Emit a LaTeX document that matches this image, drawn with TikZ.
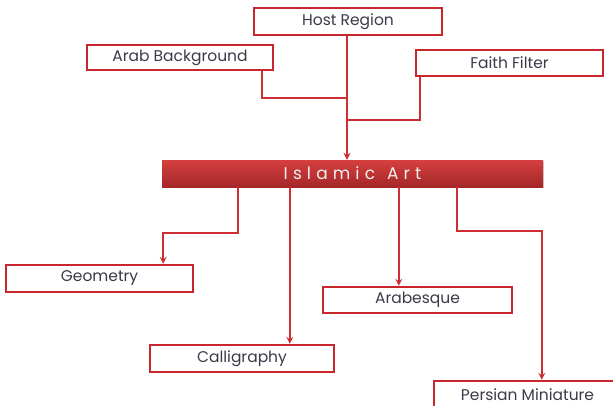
\documentclass[tikz,border=0pt]{standalone}
\usepackage{fontspec}
\setmainfont{Poppins}
\newfontfamily\barfont[LetterSpace=30]{Poppins}
\usetikzlibrary{calc,arrows.meta,shadows}
\definecolor{boxred}{HTML}{C8262C}
\definecolor{linered}{HTML}{CC2E33}
\definecolor{txt}{HTML}{3A3B48}
\definecolor{bartop}{HTML}{D5403F}
\definecolor{barbot}{HTML}{A52628}
\tikzset{
  box/.style={draw=boxred, line width=2.4pt, fill=white, text=txt,
    inner sep=0pt, font=\fontsize{15.5}{16}\selectfont},
  conn/.style={draw=linered, line width=1.6pt},
  arr/.style={conn, -{Stealth[length=7pt,width=7pt,inset=2.5pt]}},
  titlebar/.style={top color=bartop, bottom color=barbot, draw=none,
    text=white!94!black, inner sep=0pt, font=\barfont\fontsize{17}{18}\selectfont,
    drop shadow={shadow xshift=0.8pt, shadow yshift=-1.2pt, opacity=0.35}}
}
\begin{document}
\begin{tikzpicture}[x=1pt,y=-1pt]
\useasboundingbox (0,0) rectangle (613,405);
\node[box, minimum width=188pt, minimum height=27pt] (host) at (348,21.5) {Host Region};
\node[box, minimum width=186pt, minimum height=25pt] (arab) at (180,57.5) {Arab Background};
\node[box, minimum width=187pt, minimum height=26pt] (faith) at (509.5,63) {Faith Filter};
\node[titlebar, minimum width=381pt, minimum height=27pt] (bar) at (352.5,173.5) {Islamic\hspace{12pt}Art};
\node[box, minimum width=187pt, minimum height=27pt] (geo) at (99.5,278.5) {Geometry};
\node[box, minimum width=184pt, minimum height=27pt] (cal) at (242,358.5) {Calligraphy};
\node[box, minimum width=189pt, minimum height=26pt] (arb) at (417.5,300) {Arabesque};
\node[box, minimum width=187pt, minimum height=27pt] (per) at (527.5,394.5) {Persian Miniature};

% top connectors
\coordinate (hs) at ($(host.south)+(-1,0)$);
\coordinate (as) at ($(arab.south east)+(-12,0)$);
\coordinate (fs) at ($(faith.south west)+(5,0)$);
\coordinate (j1) at ($(hs)+(0,62)$);
\coordinate (j2) at ($(hs)+(0,84)$);
\draw[arr] (hs) -- (hs |- bar.north);
\draw[conn] (as) -- (as |- j1) -- (j1);
\draw[conn] (fs) -- (fs |- j2) -- (j2);

% bottom connectors
\coordinate (b1) at ($(bar.south west)+(76,0)$);
\coordinate (b2) at ($(bar.south west)+(128,0)$);
\coordinate (b3) at ($(bar.south west)+(237,0)$);
\coordinate (b4) at ($(bar.south west)+(295,0)$);
\coordinate (g1) at ($(geo.north east)+(-31,0)$);
\coordinate (p1) at ($(per.north west)+(109,0)$);
\draw[arr] (b1) -- ($(b1)+(0,46)$) -| (g1);
\draw[arr] (b2) -- (b2 |- cal.north);
\draw[arr] (b3) -- (b3 |- arb.north);
\draw[arr] (b4) -- ($(b4)+(0,44)$) -| (p1);
\end{tikzpicture}
\end{document}
